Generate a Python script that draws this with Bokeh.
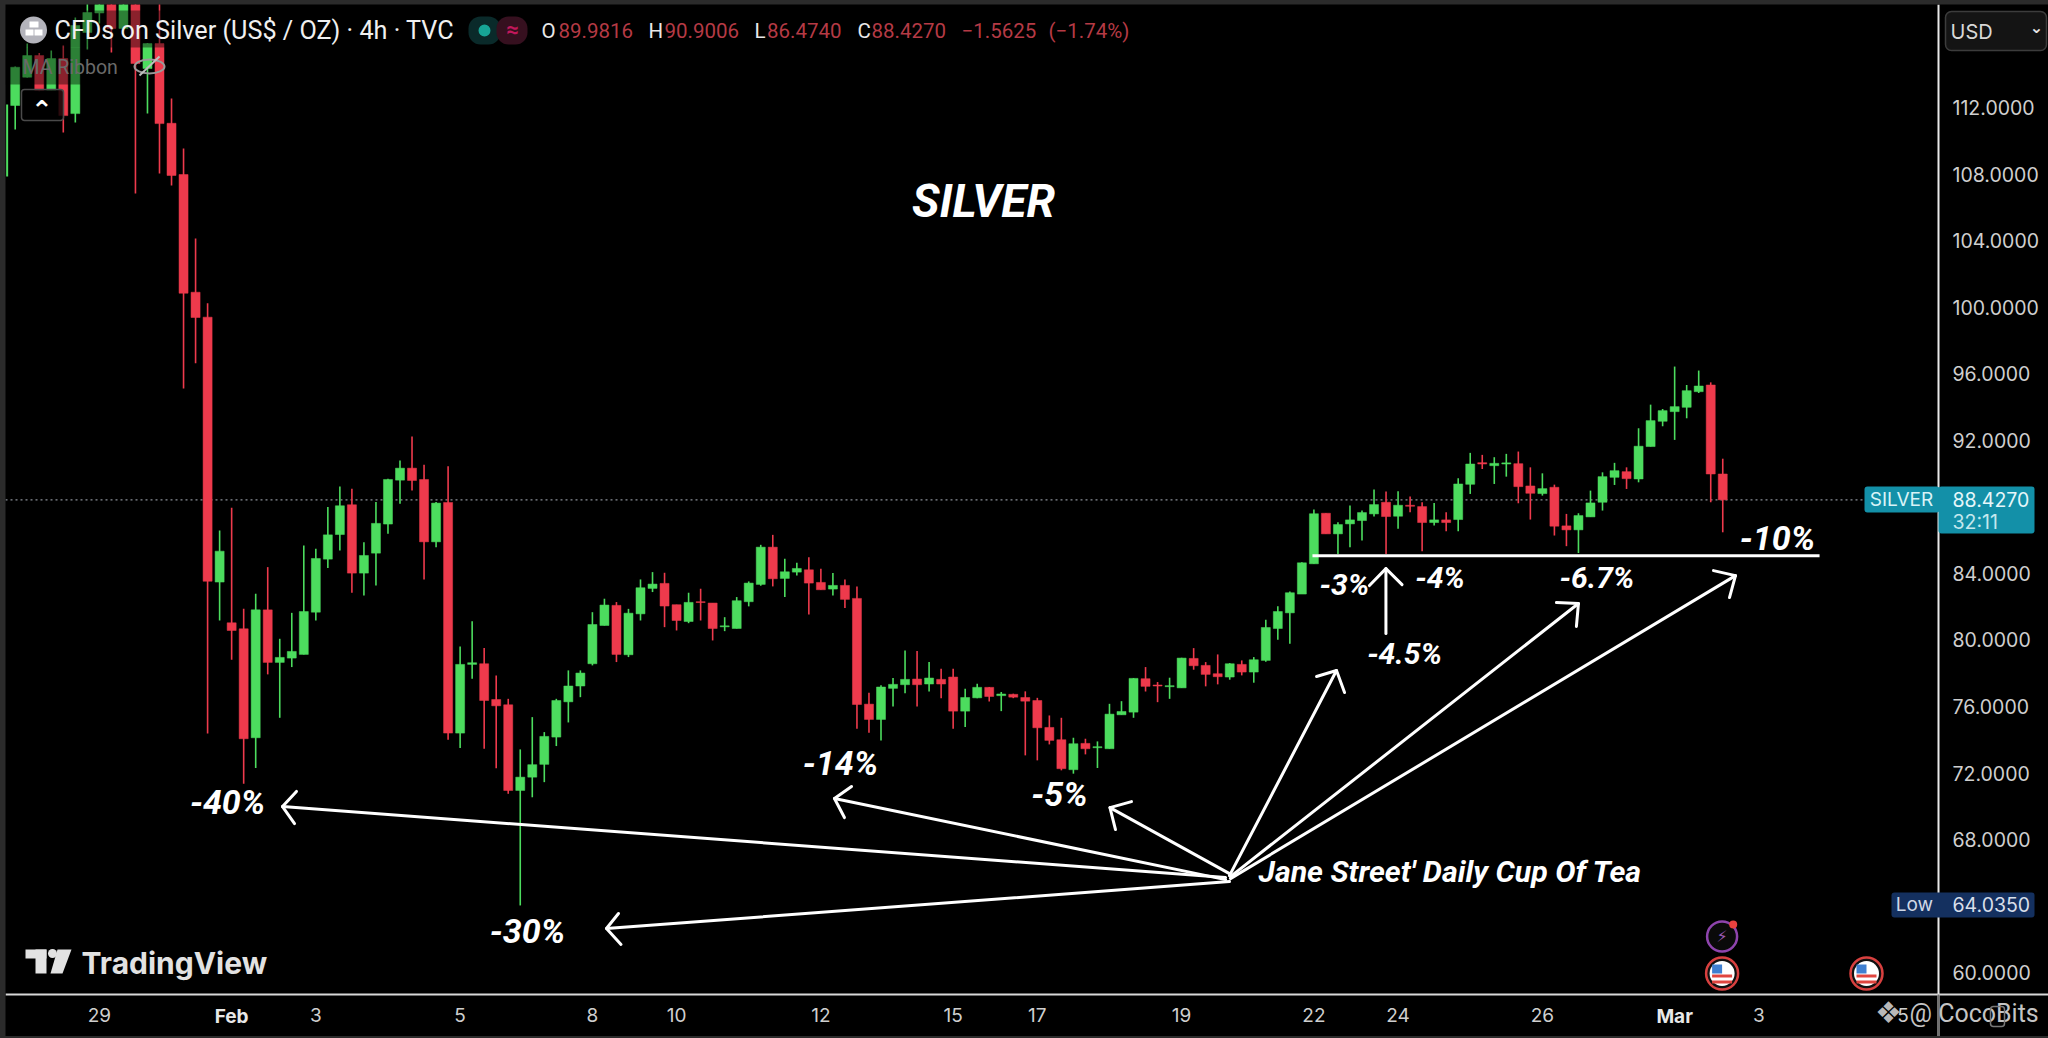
from bokeh.plotting import figure
from bokeh.embed import file_html
from bokeh.resources import INLINE
from bokeh.models import (Label, BoxAnnotation, FixedTicker, LinearAxis,
                          GlobalInlineStyleSheet, ColumnDataSource)

# ---------- data (4h candles) ----------
opens = [112.14,113.84,115.14,113.04,114.96,111.65,116.53,117.7,119,116.77,119,114.36,115.86,111.07,107.99,100.91,99.41,
 83.48,81.03,80.67,74.12,81.81,78.65,78.91,79.13,81.67,84.86,86.34,88.13,84.02,85.22,86.97,89.61,90.33,89.65,85.9,88.27,
 74.4,78.53,78.57,76.42,76.10,70.95,71.75,72.52,74.16,76.28,77.23,78.57,80.87,82.08,79.11,81.57,83.1,83.4,82.12,81.11,82.3,
 82.22,80.79,80.69,82.3,83.34,85.58,83.7,84.08,84.22,83.46,83.06,83.28,82.5,76.14,75.22,77.09,77.31,77.65,77.35,77.63,77.77,
 75.72,76.52,77.15,76.65,76.73,76.54,76.36,74.74,74.0,72.2,73.78,73.52,73.46,75.5,75.66,77.67,77.29,77.19,77.12,78.89,78.47,
 77.97,77.77,78.53,78.07,78.77,80.69,81.63,82.76,84.58,87.62,86.38,86.98,87.18,87.58,88.28,87.44,88.1,88.02,87.06,87.22,87.24,
 89.36,90.66,90.48,90.58,90.6,89.26,88.8,89.18,86.86,86.62,87.4,88.28,89.78,90.12,89.68,91.63,93.15,93.73,93.99,94.93,95.33,89.98]
highs = [114.48,115.86,115.3,115.44,115.74,117.43,119,119,119,119,119,115.9,119,112.56,109.55,104.14,100.25,
 86.58,87.95,81.87,82.78,84.38,80.07,81.63,85.68,85.48,87.99,89.23,89.09,85.88,88.29,89.7,90.79,92.24,90.53,88.29,90.45,
 79.61,81.13,79.51,77.87,76.46,73.42,75.36,74.46,76.46,78.17,78.17,81.67,82.48,82.28,81.87,83.64,84.08,84.04,82.12,82.84,83.08,
 82.22,81.37,82.58,83.52,85.72,86.32,84.88,84.64,84.98,84.28,84.02,83.64,83.22,76.82,77.27,77.71,79.37,79.33,78.67,78.27,78.27,
 77.07,77.37,77.17,76.87,76.77,76.91,76.52,75.46,75.32,74.12,74.06,73.9,76.16,76.32,77.71,78.37,77.47,77.73,78.93,79.51,78.67,
 79.13,78.61,78.77,78.97,81.21,82.02,82.92,84.68,87.85,87.62,87.08,88.08,87.78,89.04,88.92,88.94,88.62,88.28,88.24,87.68,89.72,
 91.25,91.13,90.99,91.19,91.33,90.38,90.02,89.34,87.58,87.62,88.98,90.08,90.65,90.38,92.73,94.15,93.89,96.44,95.33,96.2,95.49,90.90]
lows = [110.69,113.82,113.0,113.04,110.51,111.11,115.5,117.07,115.32,116.77,106.84,111.65,108.05,107.33,95.12,96.64,74.37,
 81.17,78.81,71.35,72.30,77.93,75.32,78.37,79.13,81.17,84.32,85.38,82.84,82.68,83.28,86.38,88.19,88.99,83.64,85.58,74.0,
 73.5,77.67,73.46,72.28,70.75,64.035,70.54,71.45,73.62,75.04,76.56,78.47,80.87,78.67,78.97,81.17,82.88,80.77,80.57,81.01,81.17,
 79.97,80.53,80.69,82.02,83.26,83.22,82.58,83.88,81.53,83.02,82.68,81.92,74.66,74.42,73.96,76.0,76.8,76.0,76.9,76.5,74.66,
 74.76,76.5,76.3,75.72,76.5,73.06,72.76,73.72,72.16,71.96,73.12,72.3,73.46,75.5,75.32,76.9,76.26,76.46,77.12,78.21,77.21,
 77.33,77.61,77.87,77.43,78.69,80.01,79.77,82.76,84.58,86.38,85.17,85.58,85.98,87.42,85.17,86.68,87.68,85.33,86.88,86.54,86.54,
 88.78,90.28,89.38,89.82,88.22,87.24,88.68,86.28,85.64,85.23,87.4,87.78,89.32,89.08,89.48,91.63,92.85,92.03,93.33,94.85,88.28,86.474]
closes = [114.44,115.14,113.04,114.96,111.53,116.95,117.73,119,116.77,119,114.66,115.86,111.05,107.93,100.85,99.39,83.53,
 85.34,80.57,74.06,81.81,78.65,78.95,79.31,81.71,84.9,86.32,88.07,84.02,85.08,87.01,89.65,90.33,89.59,85.9,88.23,74.4,
 78.53,78.63,76.36,76.04,70.95,71.75,72.5,74.2,76.36,77.23,78.01,80.93,82.1,79.13,81.61,83.14,83.36,82.04,81.17,82.26,82.25,
 80.69,80.85,82.36,83.42,85.58,83.68,84.1,84.3,83.42,83.02,83.28,82.44,76.12,75.22,77.17,77.33,77.63,77.31,77.71,77.35,75.72,
 76.54,77.15,76.6,76.75,76.56,76.32,74.72,73.96,72.26,73.76,73.46,73.58,75.54,75.7,77.69,77.21,77.23,77.25,78.91,78.45,77.93,
 77.79,78.57,78.07,78.81,80.75,81.71,82.84,84.64,87.59,86.38,86.94,87.22,87.66,88.14,87.42,88.1,88.04,87.06,87.22,87.06,89.38,
 90.58,90.58,90.62,90.65,89.22,88.82,89.1,86.84,86.62,87.48,88.24,89.82,90.18,89.7,91.65,93.19,93.79,94.03,94.99,95.27,89.98,88.427]

stray_bar, stray_low, stray_high = -0.67, 107.87, 112.2   # clipped first candle: only its wick shows

y_ticks = [60,68,72,76,80,84,92,96,100,104,108,112]
x_tick_bars = [7,25,37,48,55,67,78,85,97,108,115,127,145,157]
x_tick_text = ["29","3","5","8","10","12","15","17","19","22","24","26","3","5"]
month_bars = [18,138]
month_text = ["Feb","Mar"]

last_price, low_price = 88.427, 64.035

# white drawing: (bar, price)
arrow_tail_b = [100.65,100.65,100.98,100.98,100.98,101.06,101.06,113.99]
arrow_tail_p = [65.71,65.59,65.95,65.47,65.83,65.77,65.65,80.39]
arrow_tip_b  = [22.23,68.13,91.04,49.17,109.88,130.0,143.06,113.99]
arrow_tip_p  = [69.98,70.47,69.92,62.65,78.16,82.19,83.87,84.29]
head1_b = [23.39,69.55,92.83,50.17,108.22,128.17,141.23,112.62]
head1_p = [70.89,71.19,70.28,63.55,77.8,82.25,84.17,83.27]
head2_b = [23.23,68.96,91.5,50.38,110.55,129.83,142.56,115.33]
head2_p = [68.96,69.32,68.6,61.69,76.84,80.81,82.55,83.33]
support_b, support_p = [107.88,150.05], [85.07,85.07]

note_text = ["-40%","-30%","-14%","-5%","-3%","-4.5%","-4%","-6.7%","-10%"]
note_bar  = [17.66,42.6,68.63,86.84,110.54,115.54,118.49,131.54,146.55]
note_price= [70.28,62.47,72.63,70.76,83.33,79.18,83.75,83.75,86.16]
note_size = [34,34,34,34,30,30,30,30,34]

UP, DOWN = "#4cdc5e", "#ee3a4c"

# ---------- pixel helpers for the window furniture ----------
def X(px): return (px - 14.7) / 12.025
def Y(px): return 112 - (px - 107.3) / 16.63

p = figure(width=2043, height=1032, output_backend="svg", toolbar_location=None,
           x_range=(X(5), X(2048)), y_range=(Y(1036), Y(4)),
           x_axis_type=None, y_axis_type=None,
           background_fill_color="#000000", border_fill_color="#000000",
           min_border_left=0, min_border_top=0, min_border_right=0, min_border_bottom=0)
p.outline_line_color = None
p.grid.visible = False
p.stylesheets = [GlobalInlineStyleSheet(css="html,body{margin:0;padding:0;background:#2b2b2b;overflow:hidden}"
                                            "body{margin:4px 0 0 5px}")]

# axes, pinned inside the canvas at the chart's right and bottom edges
ya = LinearAxis(ticker=FixedTicker(ticks=y_ticks), fixed_location=X(1938),
                major_label_overrides={v: f"{v:.4f}" for v in y_ticks})
ya.major_label_text_color = "#cfcfcf"
ya.major_label_text_font = "Inter"
ya.major_label_text_font_size = "19.5px"
ya.major_label_standoff = 8
ya.major_tick_line_color = None
ya.minor_tick_line_color = None
ya.axis_line_color = "#e8e8e8"
ya.axis_line_width = 2
p.add_layout(ya, "right")

xa = LinearAxis(ticker=FixedTicker(ticks=x_tick_bars + month_bars), fixed_location=Y(993.7),
                major_label_overrides={**dict(zip(x_tick_bars, x_tick_text)), **{b: "" for b in month_bars}})
xa.major_label_text_color = "#cfcfcf"
xa.major_label_text_font = "Inter"
xa.major_label_text_font_size = "19px"
xa.major_label_standoff = 8
xa.major_tick_line_color = None
xa.minor_tick_line_color = None
xa.axis_line_color = "#d8d8d8"
xa.axis_line_width = 2
p.add_layout(xa, "below")

p.line([X(5), X(1864)], [last_price, last_price], line_color="#8a8f98",
       line_dash="2 3", line_width=1.2, level="underlay")

# candles
bars = list(range(len(opens)))
cols = [UP if c >= o else DOWN for o, c in zip(opens, closes)]
src = ColumnDataSource(dict(x=bars, o=opens, h=highs, l=lows, c=closes, col=cols,
                            top=[max(a, b) for a, b in zip(opens, closes)],
                            bot=[min(a, b) for a, b in zip(opens, closes)]))
p.segment([stray_bar], [stray_low], [stray_bar], [stray_high], line_color=UP, line_width=2)
p.segment("x", "l", "x", "h", source=src, line_color="col", line_width=1.6)
p.vbar("x", width=0.75, top="top", bottom="bot", source=src, fill_color="col", line_color="col", line_width=0.5)

# dimmed candles under the legend
for l, r, t, b in [(5, 165, 10, 47), (5, 105, 47, 84)]:
    p.add_layout(BoxAnnotation(left=X(l), right=X(r), top=Y(t), bottom=Y(b), fill_color="#000000",
                               fill_alpha=0.42, line_color=None, level="glyph"))

# white drawing
xs = [[a, b] for a, b in zip(arrow_tail_b, arrow_tip_b)] + [[a, b, c] for a, b, c in zip(head1_b, arrow_tip_b, head2_b)]
ys = [[a, b] for a, b in zip(arrow_tail_p, arrow_tip_p)] + [[a, b, c] for a, b, c in zip(head1_p, arrow_tip_p, head2_p)]
p.multi_line(xs, ys, line_color="#ffffff", line_width=3, line_cap="round", line_join="round")
p.line(support_b, support_p, line_color="#ffffff", line_width=3)

def label(text, x, y, size, color="#ffffff", font="Roboto", style="normal", align="left", alpha=1.0):
    p.add_layout(Label(x=x, y=y, text=text, text_color=color, text_font=font, text_font_size=f"{size}px",
                       text_font_style=style, text_align=align, text_baseline="middle", text_alpha=alpha))

def box(l, r, t, b, fill, line=None, radius=0, alpha=1.0, width=1.5):
    p.add_layout(BoxAnnotation(left=X(l), right=X(r), top=Y(t), bottom=Y(b), fill_color=fill, fill_alpha=alpha,
                               line_color=line, line_alpha=1.0, line_width=width, border_radius=radius))

for t, b, v, s in zip(note_text, note_bar, note_price, note_size):
    label(t, b, v, s, style="bold italic", align="center")
label("Jane Street' Daily Cup Of Tea", X(1258), Y(871), 30.3, style="bold italic")
label("SILVER", X(983), Y(200), 46, style="bold italic", align="center")

# month labels in the time axis
for b, t in zip(month_bars, month_text):
    label(t, b, Y(1016), 19, color="#e8e8e8", font="Inter", style="bold", align="center")

# header
p.scatter([X(33)], [Y(29.5)], size=27, fill_color="#b3b3bb", line_color=None, level="overlay")
p.quad(left=[X(25), X(34), X(29)], right=[X(33), X(42), X(38)], top=[Y(29), Y(29), Y(21)], bottom=[Y(35), Y(35), Y(27)],
       fill_color="#ffffff", line_color=None, level="overlay")
label("CFDs on Silver (US$ / OZ) · 4h · TVC", X(54), Y(30), 25.2, color="#f0f0f0")
box(468, 500, 16, 44, "#0a2a2a", radius=12)
box(496, 527, 16, 44, "#36101f", radius=12)
p.scatter([X(484)], [Y(30)], size=12, fill_color="#17a596", line_color=None, level="overlay")
label("≈", X(512), Y(29), 22, color="#c2185b", align="center", style="bold")
ohlc_bits = [("O", 541, "#e8e8e8"), ("89.9816", 558, "#b53a45"), ("H", 648, "#e8e8e8"), ("90.9006", 664, "#b53a45"),
             ("L", 754, "#e8e8e8"), ("86.4740", 766.5, "#b53a45"), ("C", 857, "#e8e8e8"), ("88.4270", 871, "#b53a45"),
             ("−1.5625", 961, "#b53a45"), ("(−1.74%)", 1048, "#b53a45")]
for t, x, c in ohlc_bits:
    label(t, X(x), Y(30), 20.5, color=c)
label("MA Ribbon", X(22), Y(67), 19.5, color="#6a6a6a")
p.ellipse([X(149)], [Y(66)], width=30, height=14, width_units="screen", height_units="screen",
          fill_color=None, line_color="#9a9a9a", line_width=2, level="overlay")
p.segment([X(139)], [Y(75)], [X(159)], [Y(56)], line_color="#bdbdbd", line_width=2, level="overlay")
box(21, 63, 89, 120, "#000000", line="#4a4a4a", radius=3, alpha=0.82)
label("⌃", X(41.5), Y(109), 26, color="#ffffff", font="DejaVu Sans", style="bold", align="center")

# USD box
box(1945, 2046, 11, 50, "#141414", line="#3c3c3c", radius=6)
label("USD", X(1950), Y(31), 20, color="#d8d8d8", font="Inter")
label("⌄", X(2036), Y(27), 16, color="#e8e8e8", font="DejaVu Sans", style="bold", align="center")

# price tags
TEAL = "#1390a8"
box(1864, 1939, 486, 512, TEAL, radius=3)
box(1938, 2034, 486, 533, TEAL, radius=3)
label("SILVER", X(1901), Y(499), 19, color="#d8f3f7", font="Inter", align="center")
label("88.4270", X(1952), Y(499), 19.5, color="#e6f7fa", font="Inter")
label("32:11", X(1952), Y(521), 19.5, color="#c4e8ee", font="Inter")
box(1891, 2034, 892, 917, "#14305f", radius=3)
label("Low", X(1914), Y(904), 19, color="#d0d8e6", font="Inter", align="center")
label(f"{low_price:.4f}", X(1952), Y(904), 19.5, color="#d8dfea", font="Inter")
box(1937, 1939, 994, 1036, "#6f6f6f")

# event icons
p.scatter([X(1721.6)], [Y(936)], size=30, fill_color="#0a0a0a", line_color="#8e44ad", line_width=2.5)
label("⚡", X(1721.6), Y(936), 16, color="#9b59b6", font="DejaVu Sans", align="center")
p.scatter([X(1732.7)], [Y(924)], size=8, fill_color="#e8413f", line_color=None)
for fx in [1721.6, 1866]:
    p.scatter([X(fx)], [Y(973)], size=32, fill_color="#111111", line_color="#d8403f", line_width=2.5)
    p.scatter([X(fx)], [Y(973)], size=25, fill_color="#ffffff", line_color=None)
    p.quad(left=[X(fx-10)]*2, right=[X(fx+10)]*2, top=[Y(974), Y(980)], bottom=[Y(977), Y(983)],
           fill_color="#e0453f", line_color=None)
    p.quad(left=[X(fx-10)], right=[X(fx)], top=[Y(964)], bottom=[Y(973)], fill_color="#3f7fd0", line_color=None)

# TradingView logo
LOGO = "#e2e2e2"
p.quad(left=[X(25), X(35)], right=[X(46), X(46)], top=[Y(949), Y(949)], bottom=[Y(958), Y(973)], fill_color=LOGO, line_color=None)
p.scatter([X(52)], [Y(953)], size=9, fill_color=LOGO, line_color=None)
p.patch([X(57), X(71), X(62), X(50)], [Y(949), Y(949), Y(973), Y(973)], fill_color=LOGO, line_color=None)
label("TradingView", X(81), Y(962), 30, color=LOGO, font="Inter", style="bold")

# watermark
label("❖", X(1888), Y(1012), 30, color="#b8b8b8", font="DejaVu Sans", align="center")
label("@ CocoBits", X(1909), Y(1013), 25, color="#c4c4c4", font="Roboto")
box(1990, 2004, 1006, 1026, "#000000", line="#777777", radius=3, alpha=0.0)

open("out.html", "w").write(file_html(p, INLINE))
